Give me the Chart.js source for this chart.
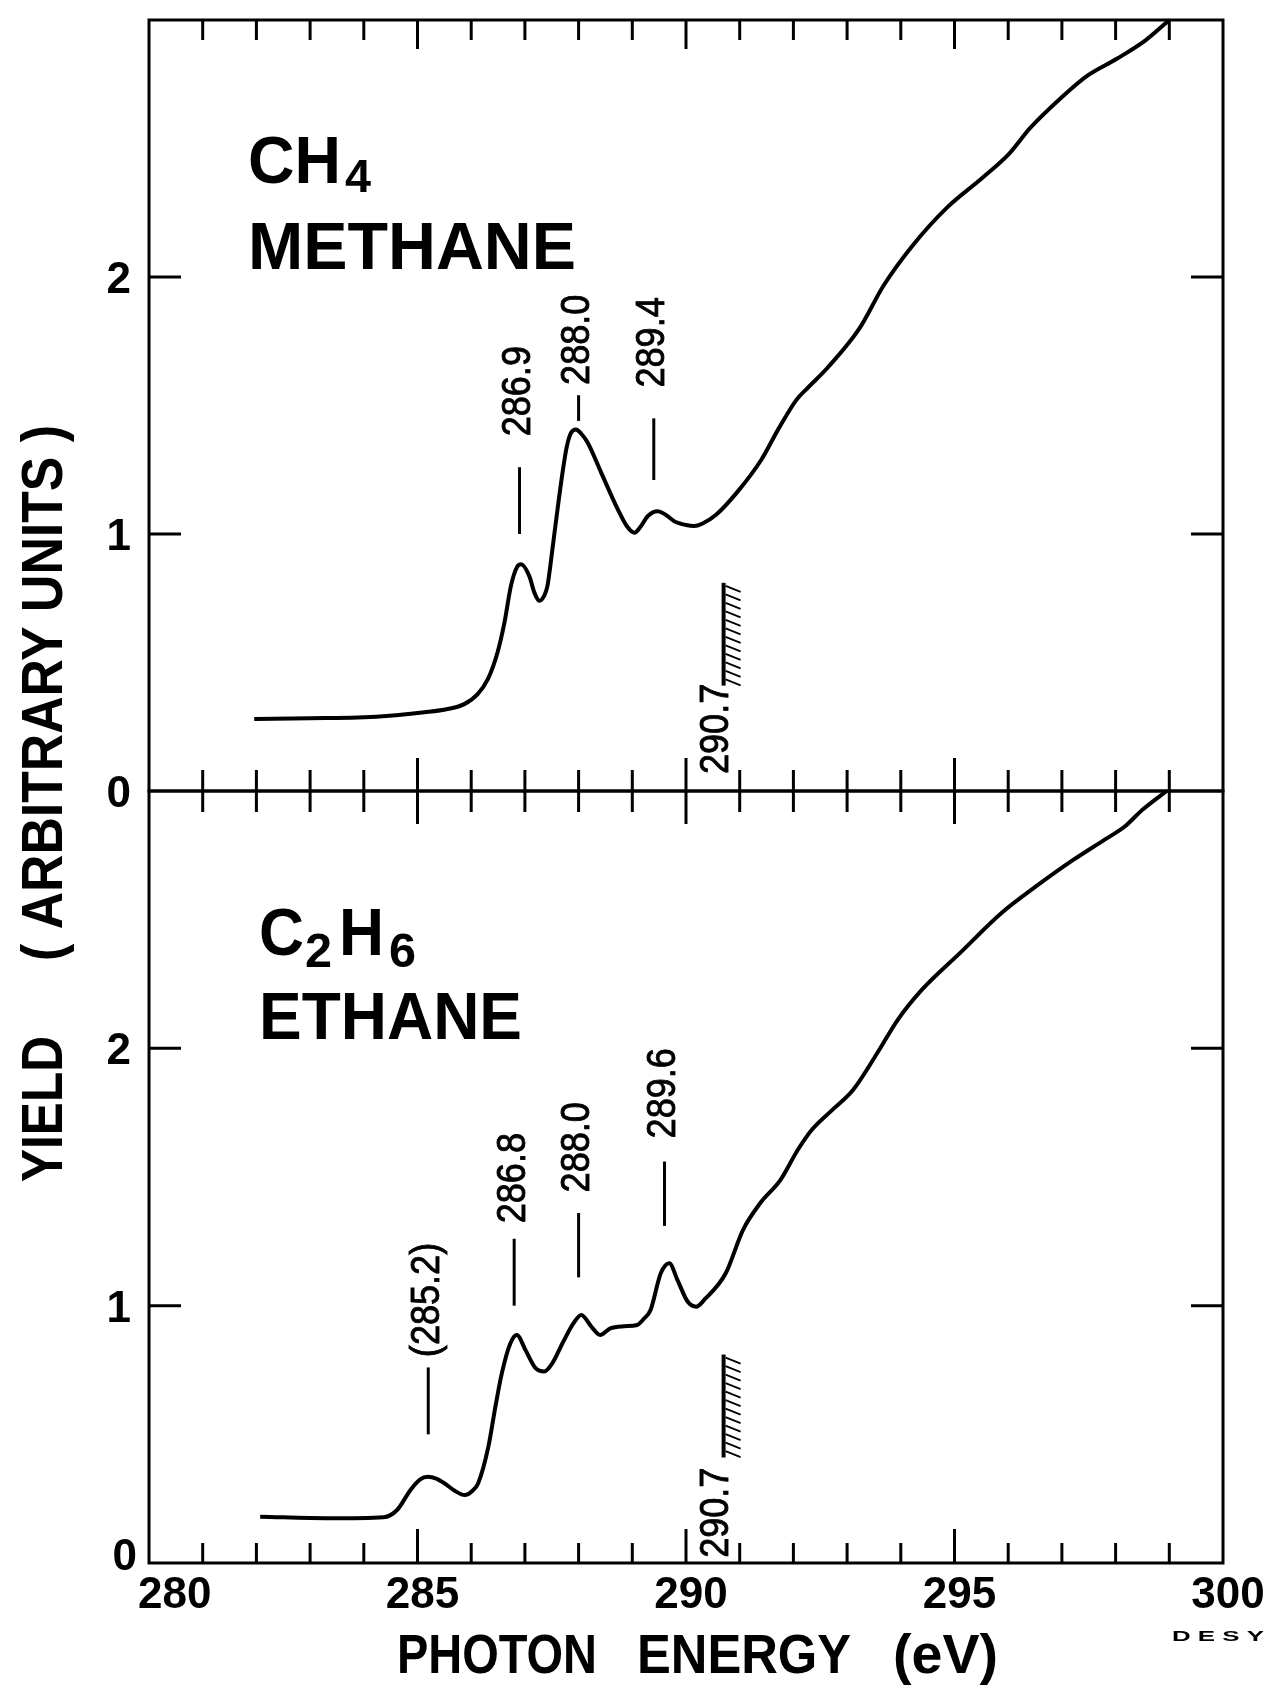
<!DOCTYPE html>
<html>
<head>
<meta charset="utf-8">
<script src="https://cdn.jsdelivr.net/npm/chart.js@4.4.1/dist/chart.umd.min.js"></script>
<style>
  html, body { margin: 0; padding: 0; background: #fff; }
  #wrap { position: relative; width: 1285px; height: 1694px; }
  canvas { position: absolute; left: 0; top: 0; }
</style>
</head>
<body>
<div id="wrap">
  <canvas id="topChart" width="1285" height="1694"></canvas>
  <canvas id="bottomChart" width="1285" height="1694"></canvas>
</div>
<script>
// axes
const energyRange = [280, 300];
const yieldRange = [0, 3];
const energyTickLabels = ['280', '285', '290', '295', '300'];
const yieldTickLabels = ['0', '1', '2'];

// CH4 yield curve
const methaneEnergy = [281.96, 283.0, 283.89, 284.6, 285.13, 285.56, 285.87, 286.12, 286.31, 286.49,
  286.62, 286.74, 286.85, 286.93, 287.08, 287.18, 287.27, 287.36, 287.42, 287.52,
  287.64, 287.77, 287.85, 287.95, 288.05, 288.17, 288.42, 288.73, 288.9, 289.04,
  289.16, 289.29, 289.47, 289.62, 289.78, 290.0, 290.15, 290.3, 290.56, 290.95,
  291.4, 291.73, 292.06, 292.25, 292.64, 293.23, 293.68, 294.21, 294.86, 295.51,
  296.02, 296.41, 297.0, 297.45, 298.03, 298.55, 299.0];
const methaneYield = [0.28, 0.283, 0.286, 0.295, 0.306, 0.319, 0.338, 0.377, 0.435, 0.539,
  0.656, 0.798, 0.87, 0.882, 0.837, 0.77, 0.74, 0.76, 0.798, 0.953,
  1.148, 1.329, 1.39, 1.407, 1.39, 1.355, 1.239, 1.096, 1.03, 1.005,
  1.03, 1.07, 1.089, 1.075, 1.05, 1.035, 1.031, 1.04, 1.075, 1.162,
  1.288, 1.412, 1.523, 1.565, 1.648, 1.80, 1.967, 2.12, 2.27, 2.384,
  2.48, 2.58, 2.70, 2.78, 2.85, 2.92, 3.0];

// C2H6 yield curve
const ethaneEnergy = [282.07, 283.36, 284.37, 284.62, 284.87, 285.05, 285.19, 285.35, 285.5, 285.7,
  285.88, 286.02, 286.13, 286.32, 286.45, 286.57, 286.73, 286.85, 287.01, 287.2,
  287.36, 287.51, 287.7, 287.9, 288.05, 288.24, 288.4, 288.59, 288.85, 289.09,
  289.22, 289.34, 289.53, 289.69, 289.84, 290.03, 290.19, 290.35, 290.74, 291.06,
  291.38, 291.76, 292.08, 292.34, 292.72, 293.11, 293.56, 293.94, 294.39, 295.1,
  295.87, 296.51, 297.21, 297.79, 298.17, 298.5, 298.95];
const ethaneYield = [0.18, 0.174, 0.178, 0.206, 0.284, 0.325, 0.335, 0.328, 0.31, 0.28,
  0.264, 0.28, 0.31, 0.452, 0.607, 0.737, 0.854, 0.886, 0.828, 0.757,
  0.744, 0.776, 0.854, 0.93, 0.964, 0.918, 0.886, 0.912, 0.92, 0.925,
  0.95, 0.983, 1.126, 1.165, 1.10, 1.016, 0.996, 1.025, 1.126, 1.294,
  1.398, 1.489, 1.605, 1.683, 1.76, 1.838, 1.981, 2.11, 2.227, 2.37,
  2.525, 2.628, 2.732, 2.81, 2.862, 2.927, 3.0];

// peak markers: label, marker line from/to (yield), label starts at (yield)
const methanePeaks = ['286.9', '288.0', '289.4'];
const methaneMarkLow = [1.00, 1.44, 1.21];
const methaneMarkHigh = [1.26, 1.54, 1.45];
const methaneLabelFrom = [1.38, 1.58, 1.57];

const ethanePeaks = ['(285.2)', '286.8', '288.0', '289.6'];
const ethaneMarkLow = [0.50, 1.00, 1.11, 1.31];
const ethaneMarkHigh = [0.76, 1.26, 1.36, 1.56];
const ethaneLabelFrom = [0.80, 1.32, 1.44, 1.65];

// ionization edge
const edgeLabel = '290.7';
const edgeLow = 0.41;
const edgeHigh = 0.81;
const edgeLabelFrom = [0.066, 0.02];

const SANS = '"Liberation Sans", Arial, sans-serif';

const fitText = (ctx, text, x, y, font, width) => {
    ctx.font = font;
    const k = width ? width / ctx.measureText(text).width : 1;
    ctx.save();
    ctx.translate(x, y);
    ctx.scale(k, 1);
    ctx.textAlign = 'left';
    ctx.textBaseline = 'alphabetic';
    ctx.fillText(text, 0, 0);
    ctx.restore();
};

// text reading bottom to top, centred on cx, starting at yStart
const drawVertical = (ctx, text, cx, yStart, font, capH, k, thicken) => {
    ctx.save();
    ctx.font = font;
    ctx.translate(cx, yStart);
    ctx.rotate(-Math.PI / 2);
    ctx.scale(k, 1);
    ctx.textAlign = 'left';
    ctx.textBaseline = 'alphabetic';
    ctx.fillText(text, 0, capH / 2);
    if (thicken) {
        ctx.lineWidth = thicken;
        ctx.strokeText(text, 0, capH / 2);
    }
    ctx.restore();
};

const peakValue = (label) => parseFloat(label.replace(/[()]/g, ''));

const panelPlugin = (cfg) => ({
    id: 'panel_' + cfg.id,
    afterDraw(chart) {
        const { ctx, chartArea: a } = chart;
        const xs = chart.scales.x;
        const ys = chart.scales.y;
        ctx.save();
        ctx.strokeStyle = '#000';
        ctx.fillStyle = '#000';
        ctx.lineWidth = 3;
        ctx.lineCap = 'butt';
        ctx.strokeRect(a.left, a.top, a.right - a.left, a.bottom - a.top);

        ctx.beginPath();
        for (let e = energyRange[0] + 1; e < energyRange[1]; e++) {
            const px = xs.getPixelForValue(e);
            const major = e % 5 === 0;
            if (cfg.topTicks) {
                ctx.moveTo(px, a.top);
                ctx.lineTo(px, a.top + (major ? 29 : 20));
            }
            if (cfg.crossTicks) {
                const h = major ? 33 : 21;
                ctx.moveTo(px, a.bottom - h);
                ctx.lineTo(px, a.bottom + h);
            } else {
                ctx.moveTo(px, a.bottom);
                ctx.lineTo(px, a.bottom - (major ? 34 : 20));
            }
        }
        for (let v = yieldRange[0] + 1; v < yieldRange[1]; v++) {
            const py = ys.getPixelForValue(v);
            ctx.moveTo(a.left, py);
            ctx.lineTo(a.left + 32, py);
            ctx.moveTo(a.right, py);
            ctx.lineTo(a.right - 32, py);
        }
        ctx.stroke();

        // yield tick labels
        ctx.font = 'bold 44px ' + SANS;
        ctx.textAlign = 'right';
        ctx.textBaseline = 'alphabetic';
        yieldTickLabels.forEach((t) => {
            const v = Number(t);
            const py = ys.getPixelForValue(v);
            if (v === 0 && cfg.lowZero) {
                ctx.fillText(t, a.left - 12, py + 7);
            } else {
                ctx.fillText(t, a.left - 18, py + 16);
            }
        });

        // peak markers
        const labelFont = '41px ' + SANS;
        ctx.lineWidth = 3;
        cfg.peaks.forEach((label, i) => {
            const px = xs.getPixelForValue(peakValue(label));
            ctx.beginPath();
            ctx.moveTo(px, ys.getPixelForValue(cfg.low[i]));
            ctx.lineTo(px, ys.getPixelForValue(cfg.high[i]));
            ctx.stroke();
            drawVertical(ctx, label, px - 4, ys.getPixelForValue(cfg.from[i]), labelFont, 29, 0.88, 0.9);
        });

        // ionization edge with hatching
        const ex = xs.getPixelForValue(peakValue(edgeLabel));
        const eTop = ys.getPixelForValue(edgeHigh);
        const eBot = ys.getPixelForValue(edgeLow);
        ctx.lineWidth = 4;
        ctx.beginPath();
        ctx.moveTo(ex, eTop);
        ctx.lineTo(ex, eBot);
        ctx.stroke();
        ctx.lineWidth = 1.8;
        ctx.beginPath();
        for (let hy = eTop + 3; hy < eBot - 2; hy += 8.5) {
            ctx.moveTo(ex + 2, hy);
            ctx.lineTo(ex + 17, hy + 6);
        }
        ctx.stroke();
        drawVertical(ctx, edgeLabel, ex - 10, ys.getPixelForValue(cfg.edgeFrom), labelFont, 29, 0.88, 0.9);

        cfg.extra(ctx, chart);
        ctx.restore();
    }
});

const makeChart = (canvasId, energy, yieldVals, padding, cfg) => new Chart(document.getElementById(canvasId), {
    type: 'line',
    data: {
        datasets: [{
            data: energy.map((e, i) => ({ x: e, y: yieldVals[i] })),
            borderColor: '#000',
            borderWidth: 4,
            pointRadius: 0,
            fill: false,
            cubicInterpolationMode: 'monotone',
            clip: false
        }]
    },
    options: {
        responsive: false,
        animation: false,
        devicePixelRatio: 1,
        layout: { padding: padding },
        plugins: { legend: { display: false }, tooltip: { enabled: false } },
        scales: {
            x: { type: 'linear', min: energyRange[0], max: energyRange[1], display: false },
            y: { type: 'linear', min: yieldRange[0], max: yieldRange[1], display: false }
        }
    },
    plugins: [panelPlugin(cfg)]
});

const bold = (size) => 'bold ' + size + 'px ' + SANS;

makeChart('topChart', methaneEnergy, methaneYield,
    { left: 149, right: 62, top: 20, bottom: 903 },
    {
        id: 'top', topTicks: true, crossTicks: true, lowZero: false,
        peaks: methanePeaks, low: methaneMarkLow, high: methaneMarkHigh, from: methaneLabelFrom,
        edgeFrom: edgeLabelFrom[0],
        extra: (ctx) => {
            fitText(ctx, 'CH', 248, 183, bold(66), 93);
            fitText(ctx, '4', 345, 192, bold(46), 26);
            fitText(ctx, 'METHANE', 248, 269, bold(66), 328);
        }
    });

makeChart('bottomChart', ethaneEnergy, ethaneYield,
    { left: 149, right: 62, top: 791, bottom: 131 },
    {
        id: 'bottom', topTicks: false, crossTicks: false, lowZero: true,
        peaks: ethanePeaks, low: ethaneMarkLow, high: ethaneMarkHigh, from: ethaneLabelFrom,
        edgeFrom: edgeLabelFrom[1],
        extra: (ctx, chart) => {
            const xs = chart.scales.x;
            const a = chart.chartArea;
            fitText(ctx, 'C', 259, 955, bold(66), 45);
            fitText(ctx, '2', 305, 967, bold(48), 27);
            fitText(ctx, 'H', 339, 955, bold(66), 45);
            fitText(ctx, '6', 389, 967, bold(48), 27);
            fitText(ctx, 'ETHANE', 259, 1039, bold(66), 263);

            // energy tick labels
            ctx.font = bold(44);
            ctx.textBaseline = 'alphabetic';
            energyTickLabels.forEach((t, i) => {
                const px = xs.getPixelForValue(Number(t));
                if (i === 0) {
                    ctx.textAlign = 'left';
                    ctx.fillText(t, px - 11, a.bottom + 45);
                } else {
                    ctx.textAlign = 'center';
                    ctx.fillText(t, px + 5, a.bottom + 45);
                }
            });

            // axis titles
            fitText(ctx, 'PHOTON', 397, 1673, bold(56), 200);
            fitText(ctx, 'ENERGY', 637, 1673, bold(56), 214);
            fitText(ctx, '(eV)', 893, 1673, bold(56), 105);

            ctx.font = bold(58);
            const yw = ctx.measureText('YIELD').width;
            drawVertical(ctx, 'YIELD', 41, 1182, bold(58), 41, 146 / yw);
            ctx.font = bold(58);
            const pw = ctx.measureText('( ARBITRARY UNITS )').width;
            drawVertical(ctx, '( ARBITRARY UNITS )', 41, 961, bold(58), 41, 536 / pw);

            fitText(ctx, 'D E S Y', 1172, 1641, bold(15), 92);
        }
    });
</script>
</body>
</html>
